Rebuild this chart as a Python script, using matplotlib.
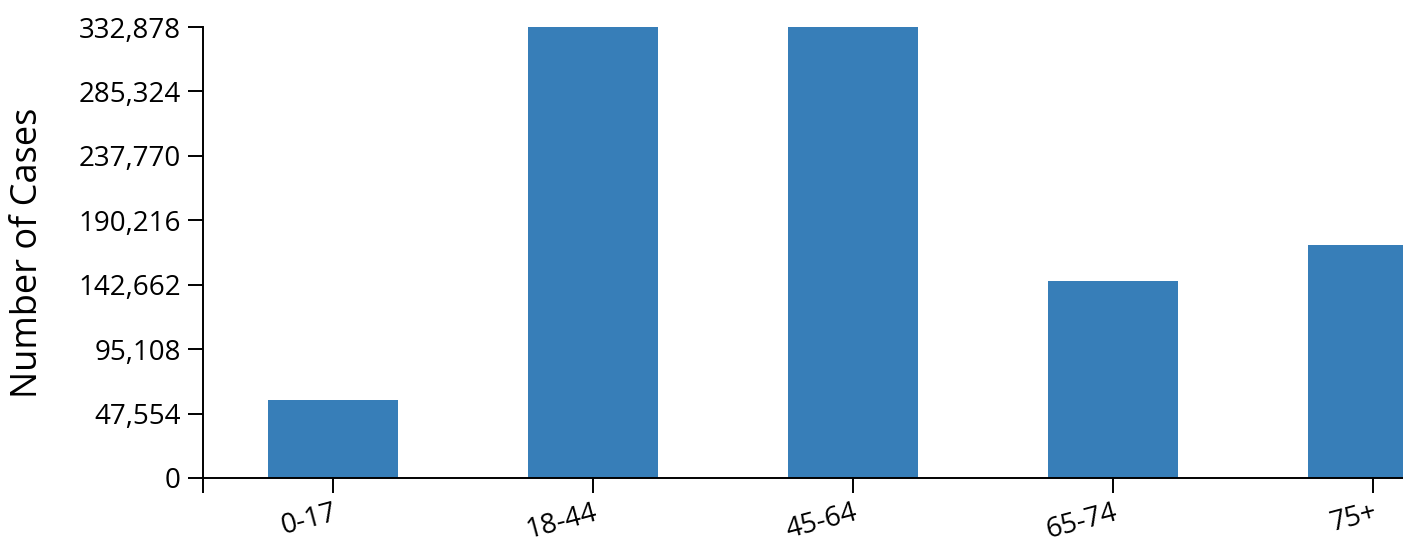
import matplotlib.pyplot as plt
import numpy as np

plt.rcParams['font.family'] = ['Open Sans', 'DejaVu Sans']

age_groups = ['0-17', '18-44', '45-64', '65-74', '75+']
cases = [57600, 332878, 332700, 145400, 172000]
y_max = 332878
y_ticks = [0, 47554, 95108, 142662, 190216, 237770, 285324, 332878]

fig = plt.figure(figsize=(14.03, 5.37), dpi=100)
ax = fig.add_axes([203 / 1403, 59 / 537, 1300 / 1403, 451 / 537])

x = np.arange(len(age_groups))
ax.bar(x, cases, width=0.5, color='#377eb8')

ax.set_xlim(-0.5, len(age_groups) - 0.5)
ax.set_ylim(0, y_max)
ax.set_yticks(y_ticks)
ax.set_yticklabels([f'{v:,}' for v in y_ticks])
ax.set_xticks(x)
ax.set_xticklabels(age_groups, rotation=15, ha='right', rotation_mode='anchor')
ax.set_xticks([-0.5], minor=True)

for s in ['top', 'right']:
    ax.spines[s].set_visible(False)
for s in ['left', 'bottom']:
    ax.spines[s].set_linewidth(1.4)
    ax.spines[s].set_color('black')

ax.tick_params(axis='both', which='both', length=11, width=1.4, color='black',
               labelsize=20)
ax.tick_params(axis='y', pad=5)
ax.tick_params(axis='x', which='major', pad=4)

ax.set_ylabel('Number of Cases', fontsize=26, va='center')
ax.yaxis.set_label_coords((28 - 203) / 1300, 0.5)

fig.savefig('out.png', dpi=100)
